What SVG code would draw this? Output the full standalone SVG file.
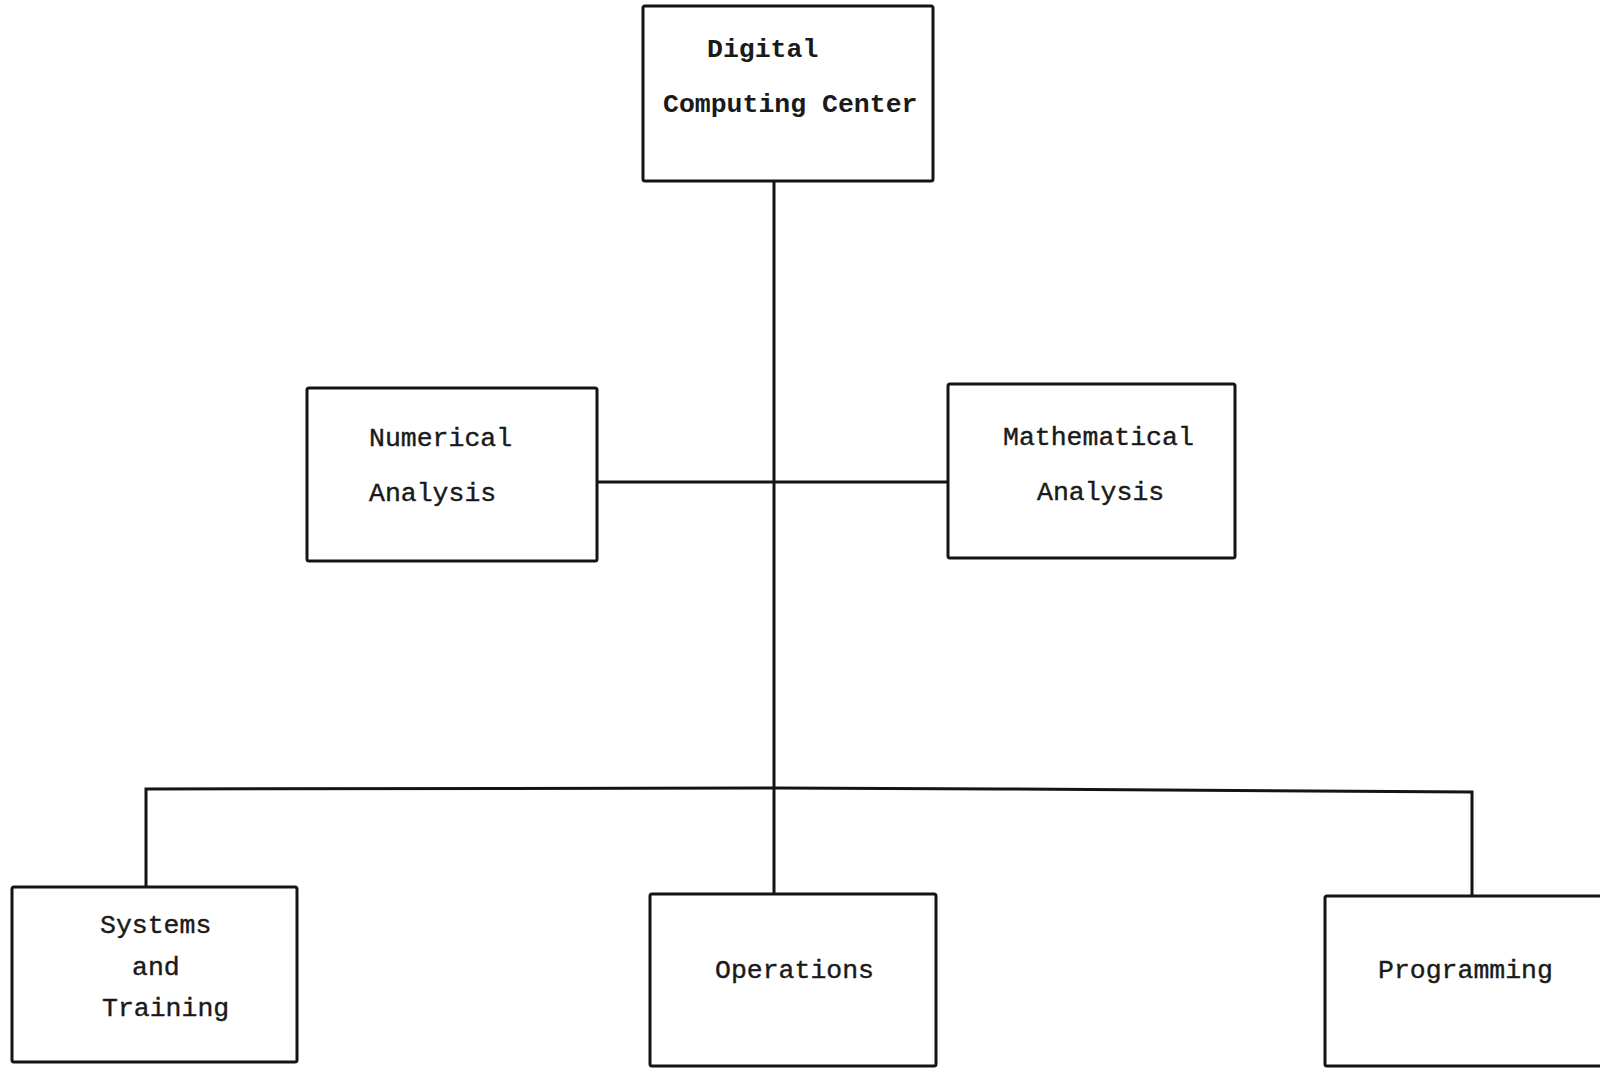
<svg xmlns="http://www.w3.org/2000/svg" width="1600" height="1069" viewBox="0 0 1600 1069">
<style>
.box{fill:#fff;stroke:#141414;stroke-width:3;}
.ln{fill:none;stroke:#141414;stroke-width:3;}
.t{font-family:"Liberation Mono","Courier New",monospace;font-size:26.5px;fill:#1a1a1a;stroke:#1a1a1a;stroke-width:0.4;}
.b{font-weight:bold;stroke-width:0;}
</style>
<rect width="1600" height="1069" fill="#fff"/>
<g id="connectors">
<path class="ln" d="M774 181 L774 894"/>
<path class="ln" d="M597 482 L948 482"/>
<path class="ln" d="M146 887 L146 789 L774 788 L1000 789 L1472 792 L1472 896"/>
</g>
<g id="n-dcc">
<rect class="box" x="643" y="6" width="290" height="175" rx="2"/>
<text class="t b" x="707" y="57">Digital</text>
<text class="t b" x="663" y="112">Computing Center</text>
</g>
<g id="n-numerical">
<rect class="box" x="307" y="388" width="290" height="173" rx="2"/>
<text class="t" x="369" y="446">Numerical</text>
<text class="t" x="369" y="501">Analysis</text>
</g>
<g id="n-mathematical">
<rect class="box" x="948" y="384" width="287" height="174" rx="2"/>
<text class="t" x="1003" y="445">Mathematical</text>
<text class="t" x="1037" y="500">Analysis</text>
</g>
<g id="n-systems">
<rect class="box" x="12" y="887" width="285" height="175" rx="2"/>
<text class="t" x="100" y="933">Systems</text>
<text class="t" x="132" y="975">and</text>
<text class="t" x="102" y="1016">Training</text>
</g>
<g id="n-operations">
<rect class="box" x="650" y="894" width="286" height="172" rx="2"/>
<text class="t" x="715" y="978">Operations</text>
</g>
<g id="n-programming">
<rect class="box" x="1325" y="896" width="290" height="170" rx="2"/>
<text class="t" x="1378" y="978">Programming</text>
</g>
</svg>
